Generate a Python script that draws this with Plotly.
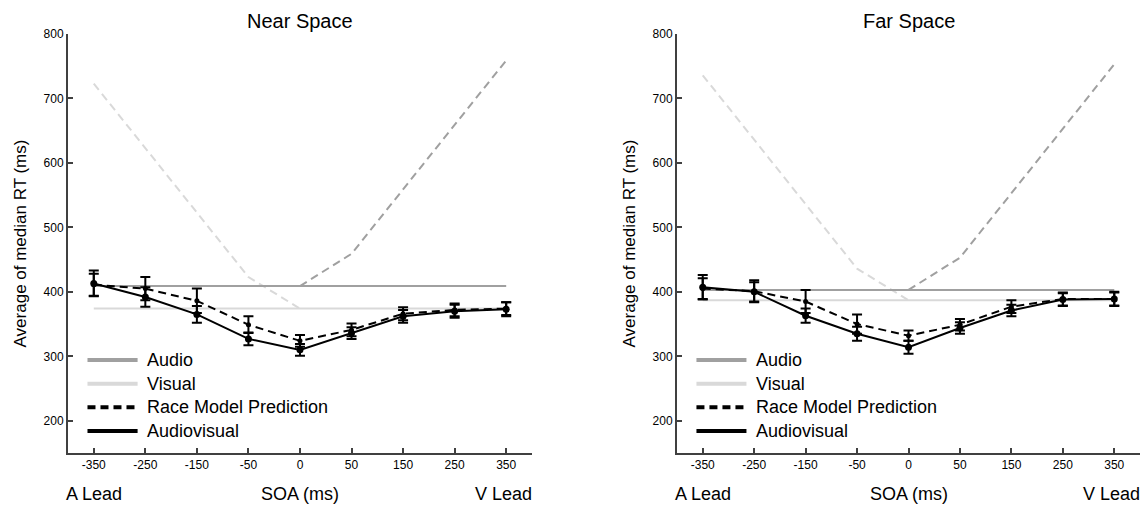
import plotly.graph_objects as go

# ---------------- data ----------------
soa_labels = ["-350", "-250", "-150", "-50", "0", "50", "150", "250", "350"]
a_lead_labels = ["-350", "-250", "-150", "-50", "0"]
v_lead_labels = ["0", "50", "150", "250", "350"]
y_tick_vals = [200, 300, 400, 500, 600, 700, 800]

# Near space
near_audio_rt = 409
near_visual_rt = 374
near_visual_shifted = [723, 623, 523, 423, 374]
near_audio_shifted = [409, 459, 559, 659, 759]
near_av = [413, 392, 365, 327, 310, 336, 362, 370, 373]
near_av_err = [20, 15, 13, 10, 9, 9, 10, 10, 11]
near_rm = [411, 405, 386, 349, 324, 341, 366, 372, 374]
near_rm_err = [17, 18, 19, 13, 9, 10, 10, 10, 10]

# Far space
far_audio_rt = 403
far_visual_rt = 387
far_visual_shifted = [736, 636, 536, 436, 387]
far_audio_shifted = [403, 453, 553, 653, 753]
far_av = [407, 400, 363, 335, 314, 344, 371, 388, 389]
far_av_err = [19, 15, 11, 11, 10, 9, 9, 10, 11]
far_rm = [405, 401, 385, 350, 332, 349, 377, 389, 389]
far_rm_err = [16, 17, 18, 15, 8, 9, 10, 10, 10]

panel_titles = ["Near Space", "Far Space"]
legend_labels = ["Audio", "Visual", "Race Model Prediction", "Audiovisual"]
x_side_labels = [("A Lead", "-350", 0), ("SOA (ms)", "0", 0), ("V Lead", "350", -3)]

# ---------------- styles ----------------
FONT = "Liberation Sans, Arial, Helvetica, sans-serif"
AUDIO_C = "#a0a0a0"
VISUAL_C = "#d9d9d9"
AXIS_C = "#404040"
legend_colors = [AUDIO_C, VISUAL_C, "black", "black"]
legend_dashes = ["solid", "solid", "8px,5px", "solid"]

fig = go.Figure()

panels = [
    (near_audio_rt, near_visual_rt, near_visual_shifted, near_audio_shifted,
     near_av, near_av_err, near_rm, near_rm_err),
    (far_audio_rt, far_visual_rt, far_visual_shifted, far_audio_shifted,
     far_av, far_av_err, far_rm, far_rm_err),
]

for i, (a_rt, v_rt, v_sh, a_sh, av, av_e, rm, rm_e) in enumerate(panels):
    xa = "x" if i == 0 else "x2"
    ya = "y" if i == 0 else "y2"
    # shifted unimodal predictions (dashed gray)
    fig.add_trace(go.Scatter(x=a_lead_labels, y=v_sh, mode="lines", xaxis=xa, yaxis=ya,
                             line=dict(color=VISUAL_C, width=2, dash="8px,5px"),
                             name="Visual (shifted)", showlegend=False))
    fig.add_trace(go.Scatter(x=v_lead_labels, y=a_sh, mode="lines", xaxis=xa, yaxis=ya,
                             line=dict(color=AUDIO_C, width=2, dash="8px,5px"),
                             name="Audio (shifted)", showlegend=False))
    # unimodal baselines
    fig.add_trace(go.Scatter(x=soa_labels, y=[a_rt] * len(soa_labels), mode="lines",
                             xaxis=xa, yaxis=ya, line=dict(color=AUDIO_C, width=2),
                             name="Audio", showlegend=False))
    fig.add_trace(go.Scatter(x=soa_labels, y=[v_rt] * len(soa_labels), mode="lines",
                             xaxis=xa, yaxis=ya, line=dict(color=VISUAL_C, width=2),
                             name="Visual", showlegend=False))
    # race model prediction
    fig.add_trace(go.Scatter(x=soa_labels, y=rm, mode="lines+markers", xaxis=xa, yaxis=ya,
                             line=dict(color="black", width=2, dash="8px,5px"),
                             marker=dict(color="black", size=5),
                             error_y=dict(type="data", array=rm_e, visible=True,
                                          color="black", thickness=2, width=5),
                             name="Race Model Prediction", showlegend=False))
    # audiovisual
    fig.add_trace(go.Scatter(x=soa_labels, y=av, mode="lines+markers", xaxis=xa, yaxis=ya,
                             line=dict(color="black", width=2),
                             marker=dict(color="black", size=7),
                             error_y=dict(type="data", array=av_e, visible=True,
                                          color="black", thickness=2, width=5),
                             name="Audiovisual", showlegend=False))

# ---------------- layout ----------------
axis_common = dict(showline=True, linecolor=AXIS_C, linewidth=2, ticks="inside",
                   ticklen=5, tickwidth=1.5, tickcolor=AXIS_C, showgrid=False,
                   zeroline=False, automargin=False,
                   tickfont=dict(family=FONT, size=12, color="black"))

xcommon = dict(axis_common, type="category", categoryorder="array",
               categoryarray=soa_labels, range=[-0.5, 8.5])
ycommon = dict(axis_common, range=[150, 800], tickvals=y_tick_vals,
               title=dict(text="Average of median RT (ms)",
                          font=dict(family=FONT, size=17, color="black"), standoff=13))

fig.update_layout(
    width=1140, height=501,
    margin=dict(l=60, r=8, t=26, b=56, autoexpand=False),
    paper_bgcolor="white", plot_bgcolor="white",
    showlegend=False,
    xaxis=dict(xcommon, domain=[0, 0.4328], anchor="y"),
    yaxis=dict(ycommon, anchor="x"),
    xaxis2=dict(xcommon, domain=[0.5681, 1.0], anchor="y2"),
    yaxis2=dict(ycommon, anchor="x2"),
    font=dict(family=FONT, color="black"),
)

annotations = []
shapes = []
for i, title in enumerate(panel_titles):
    xr = "x" if i == 0 else "x2"
    xd = "x domain" if i == 0 else "x2 domain"
    yd = "y domain" if i == 0 else "y2 domain"
    annotations.append(dict(text=title, xref=xd, yref="paper", x=0.5, y=1.0615,
                            xanchor="center", yanchor="top", showarrow=False,
                            font=dict(family=FONT, size=20, color="black")))
    for lab, cat, shift in x_side_labels:
        annotations.append(dict(text=lab, xref=xr, yref="paper", x=soa_labels.index(cat),
                                y=-0.098, xanchor="center", yanchor="middle", showarrow=False,
                                xshift=shift,
                                font=dict(family=FONT, size=18, color="black")))
    # manual legend
    top, step = 0.222, 0.0565
    for k, lab in enumerate(legend_labels):
        yy = top - k * step
        shapes.append(dict(type="line", xref=xd, yref=yd, x0=0.042, x1=0.150, y0=yy, y1=yy,
                           line=dict(color=legend_colors[k], width=4, dash=legend_dashes[k])))
        annotations.append(dict(text=lab, xref=xd, yref=yd, x=0.166, y=yy,
                                xanchor="left", yanchor="middle", showarrow=False,
                                font=dict(family=FONT, size=18, color="black")))

fig.update_layout(annotations=annotations, shapes=shapes)

fig.write_html("out.html")
